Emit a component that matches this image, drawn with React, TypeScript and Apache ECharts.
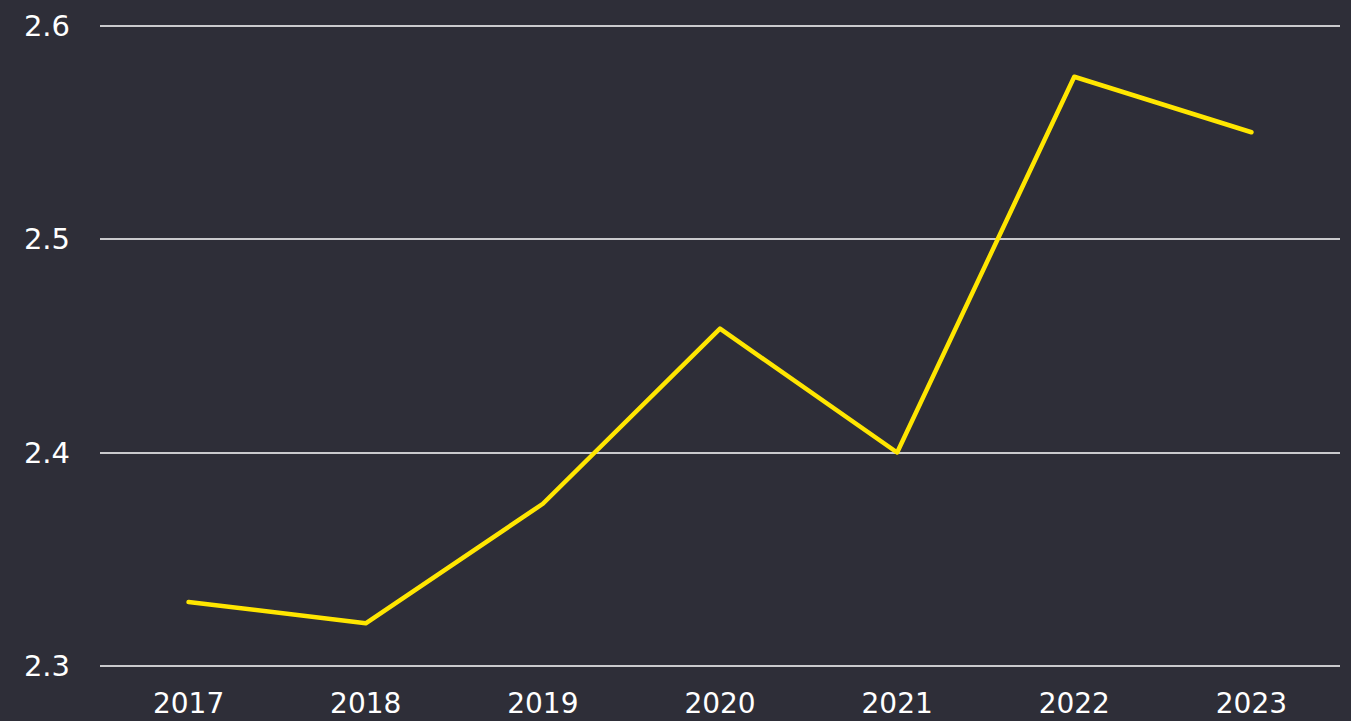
import React, { useEffect, useRef } from "react";
import * as echarts from "echarts";

const years = ["2017", "2018", "2019", "2020", "2021", "2022", "2023"];
const values = [2.33, 2.32, 2.376, 2.458, 2.4, 2.576, 2.55];
const yMin = 2.3;
const yMax = 2.6;
const yStep = 0.1;

export default function App() {
  const ref = useRef<HTMLDivElement>(null);
  useEffect(() => {
    if (!ref.current) return;
    const chart = echarts.init(ref.current, null, { renderer: "svg" });
    chart.setOption({
      animation: false,
      backgroundColor: "#2e2e38",
      grid: { left: 100, right: 11, top: 25.5, bottom: 55, containLabel: false },
      xAxis: {
        type: "category",
        data: years,
        boundaryGap: true,
        axisLine: { show: false },
        axisTick: { show: false },
        axisLabel: {
          color: "#ffffff",
          fontSize: 28,
          lineHeight: 28,
          fontFamily: "DejaVu Sans",
          margin: 23,
        },
        splitLine: { show: false },
      },
      yAxis: {
        type: "value",
        min: yMin,
        max: yMax,
        interval: yStep,
        axisLine: { show: false },
        axisTick: { show: false },
        axisLabel: {
          color: "#ffffff",
          fontSize: 29,
          fontFamily: "DejaVu Sans",
          margin: 30,
          formatter: (v: number) => v.toFixed(1),
        },
        splitLine: { show: true, lineStyle: { color: "#ffffff", width: 1.5 } },
      },
      series: [
        {
          type: "line",
          data: values,
          symbol: "none",
          lineStyle: { color: "#ffe600", width: 4.5, cap: "round", join: "round" },
          itemStyle: { color: "#ffe600" },
        },
      ],
    });
    return () => chart.dispose();
  }, []);
  return (
    <div
      ref={ref}
      style={{ position: "absolute", left: 0, top: 0, width: 1351, height: 721 }}
    />
  );
}
